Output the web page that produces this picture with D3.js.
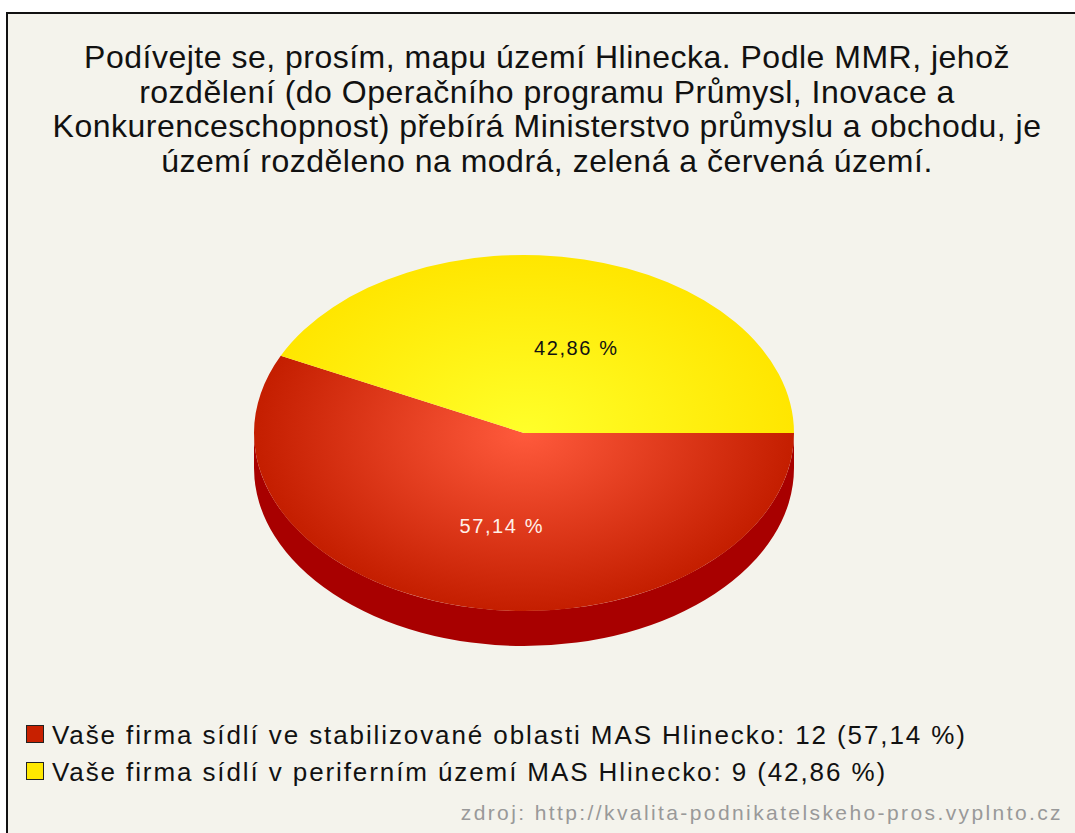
<!DOCTYPE html>
<html>
<head>
<meta charset="utf-8">
<script src="https://cdn.jsdelivr.net/npm/d3@7"></script>
<style>
  body { margin: 0; background: #fff; }
  svg { display: block; font-family: "Liberation Sans", Arial, sans-serif; }
</style>
</head>
<body>
<svg width="1075" height="833"></svg>
<script>
// data
var titleLines = [
  "Podívejte se, prosím, mapu území Hlinecka. Podle MMR, jehož",
  "rozdělení (do Operačního programu Průmysl, Inovace a",
  "Konkurenceschopnost) přebírá Ministerstvo průmyslu a obchodu, je",
  "území rozděleno na modrá, zelená a červená území."
];
var categories = [
  "Vaše firma sídlí ve stabilizované oblasti MAS Hlinecko",
  "Vaše firma sídlí v periferním území MAS Hlinecko"
];
var counts = [12, 9];
var colors = ["#c82000", "#ffe800"];
var source = "zdroj: http://kvalita-podnikatelskeho-pros.vyplnto.cz";

var svg = d3.select("svg");
var fmt = function(p) { return d3.format(".2f")(p).replace(".", ",") + " %"; };
var total = d3.sum(counts);

// panel
svg.append("rect")
  .attr("x", 7).attr("y", 13)
  .attr("width", 1200).attr("height", 900)
  .attr("fill", "#f4f3ec")
  .attr("stroke", "#111").attr("stroke-width", 2);

// title
svg.append("g").selectAll("text")
  .data(titleLines)
  .enter().append("text")
  .attr("x", 547)
  .attr("y", function(d, i) { return 68 + i * 34.5; })
  .attr("text-anchor", "middle")
  .attr("font-size", "32px")
  .attr("letter-spacing", "0.5px")
  .attr("fill", "#111")
  .text(function(d) { return d; });

// pie
var cx = 524, cy = 433, rx = 270, ry = 178, depth = 35;

var defs = svg.append("defs");
var grads = [
  ["#ff5a3c", "#c41e00"],
  ["#ffff2a", "#ffe600"]
];
grads.forEach(function(g, i) {
  var rg = defs.append("radialGradient")
    .attr("id", "g" + i)
    .attr("gradientUnits", "userSpaceOnUse")
    .attr("cx", 0).attr("cy", 0).attr("r", 1)
    .attr("gradientTransform", "translate(" + cx + "," + cy + ") scale(" + rx + "," + ry + ")");
  rg.append("stop").attr("offset", "0%").attr("stop-color", g[0]);
  rg.append("stop").attr("offset", "100%").attr("stop-color", g[1]);
});

var pie = d3.pie().sort(null)
  .startAngle(Math.PI / 2)
  .endAngle(Math.PI / 2 + 2 * Math.PI);
var arcs = pie(counts);

function pt(a, k, dy) {
  k = k || 1; dy = dy || 0;
  return [cx + k * rx * Math.sin(a), cy - k * ry * Math.cos(a) + dy];
}

// side walls (front half only)
var sideColors = ["#a80000", "#d8b800"];
var gSide = svg.append("g");
arcs.forEach(function(d, i) {
  var s = Math.max(d.startAngle, Math.PI / 2);
  var e = Math.min(d.endAngle, 3 * Math.PI / 2);
  if (e <= s) return;
  var p0 = pt(s), p1 = pt(e), q1 = pt(e, 1, depth), q0 = pt(s, 1, depth);
  var path = "M" + p0 + "A" + rx + "," + ry + " 0 0 1 " + p1 +
    "L" + q1 + "A" + rx + "," + ry + " 0 0 0 " + q0 + "Z";
  gSide.append("path").attr("d", path).attr("fill", sideColors[i]);
});

// top faces
svg.append("g").selectAll("path")
  .data(arcs)
  .enter().append("path")
  .attr("d", function(d) {
    var p0 = pt(d.startAngle), p1 = pt(d.endAngle);
    var large = d.endAngle - d.startAngle > Math.PI ? 1 : 0;
    return "M" + cx + "," + cy + "L" + p0 + "A" + rx + "," + ry + " 0 " + large + " 1 " + p1 + "Z";
  })
  .attr("fill", function(d, i) { return "url(#g" + i + ")"; });

// slice labels
function mid(d) { return (d.startAngle + d.endAngle) / 2; }
svg.append("g").selectAll("text")
  .data(arcs)
  .enter().append("text")
  .attr("x", function(d) { return pt(mid(d), 0.62)[0] + 15; })
  .attr("y", function(d) { return pt(mid(d), 0.51)[1] + 11; })
  .attr("text-anchor", "middle")
  .attr("font-size", "20px")
  .attr("letter-spacing", "1.6px")
  .attr("fill", function(d, i) { return i === 0 ? "#fff0e8" : "#111"; })
  .text(function(d) { return fmt(d.value / total * 100); });

// legend
var leg = svg.append("g").selectAll("g")
  .data(categories)
  .enter().append("g")
  .attr("transform", function(d, i) { return "translate(26," + (725 + i * 37) + ")"; });
leg.append("rect")
  .attr("x", 0.5).attr("y", 0.5)
  .attr("width", 17).attr("height", 17)
  .attr("fill", function(d, i) { return colors[i]; })
  .attr("stroke", "#222");
leg.append("text")
  .attr("x", 26).attr("y", 19)
  .attr("font-size", "26px")
  .attr("letter-spacing", "1.9px")
  .attr("fill", "#111")
  .text(function(d, i) { return d + ": " + counts[i] + " (" + fmt(counts[i] / total * 100) + ")"; });

// source
svg.append("text")
  .attr("x", 1063).attr("y", 820)
  .attr("text-anchor", "end")
  .attr("font-size", "21px")
  .attr("letter-spacing", "2.4px")
  .attr("fill", "#999")
  .text(source);
</script>
</body>
</html>
